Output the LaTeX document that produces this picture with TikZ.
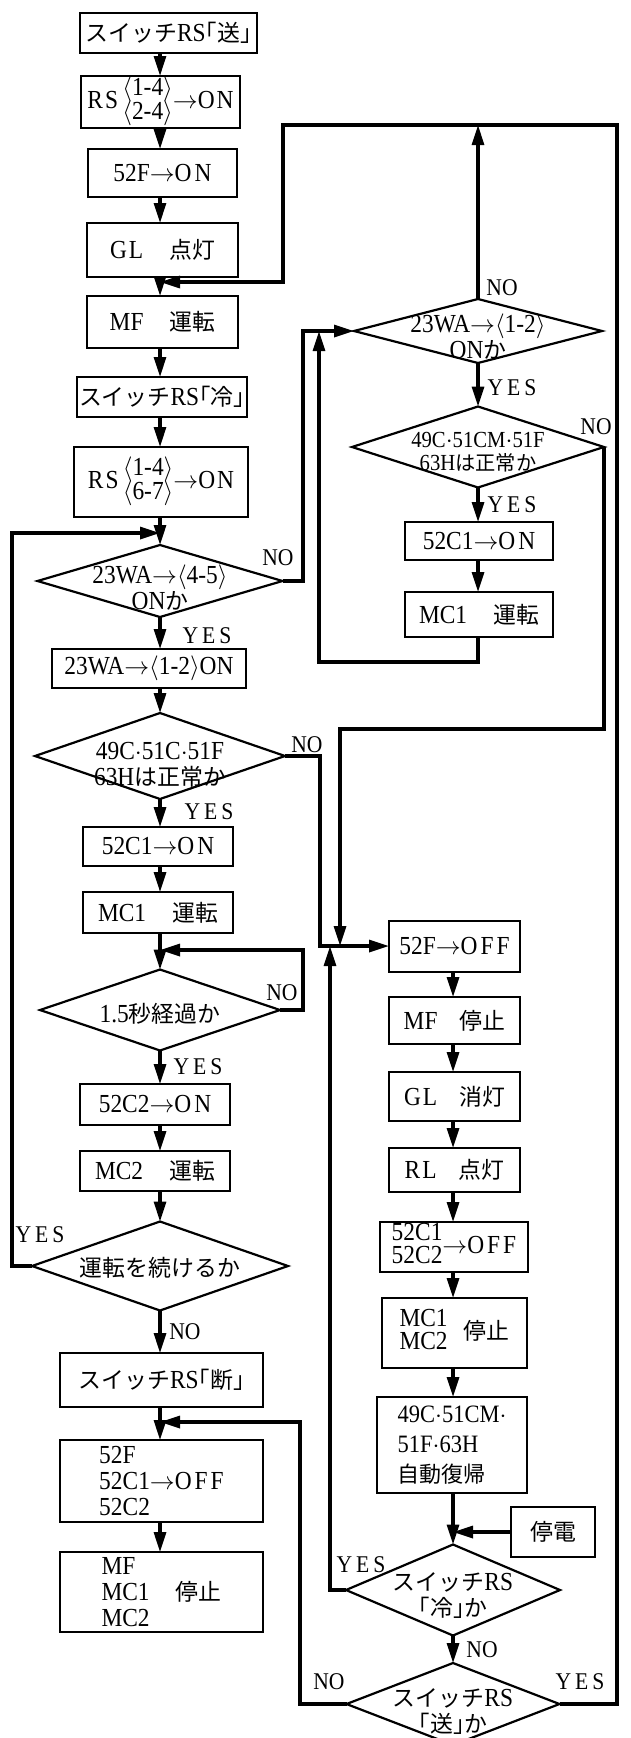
\documentclass[tikz,border=0pt]{standalone}
\usepackage{fontspec}
\setmainfont{Liberation Serif}[FakeStretch=0.9]
\newfontfamily\jp{Noto Sans CJK JP}[Scale=0.88]
\usetikzlibrary{arrows.meta,shapes.geometric}
\newcommand\mainfs{\fontsize{26}{26}\selectfont}
\newcommand\lblfs{\fontsize{24}{24}\selectfont}
\newcommand\myarr{$\rightarrow$}
\newcommand\myla{$\langle$}
\newcommand\myra{$\rangle$}
\newcommand\YESt{Y\kern4pt E\kern4pt S}
\newcommand\stk[2]{\begin{tabular}{@{}l@{}}#1\\[-3pt]#2\end{tabular}}
\begin{document}
\begin{tikzpicture}[x=1pt,y=-1pt,
  every node/.style={inner sep=0pt,outer sep=0pt},
  box/.style={draw,line width=2pt,font=\mainfs,align=center},
  dia/.style={draw,shape=diamond,line width=2.2pt},
  dtxt/.style={font=\mainfs,align=center},
  conn/.style={line width=3.2pt},
  arr/.style={conn,-{Triangle[length=20pt,width=12pt]}},
  lbl/.style={font=\lblfs}]
\fill[white] (0,0) rectangle (630,1738);
\useasboundingbox (0,0) rectangle (630,1738);

% column references
\coordinate (col) at (160,0);
\coordinate (rcol) at (478,0);
\coordinate (lcol) at (453,0);

% left column
\node[box,minimum width=177pt,minimum height=40pt] (sw1) at (168.5,33) {{\jp スイッチ}RS{\jp ｢送｣}};
\node[box,minimum width=159pt,minimum height=52pt] (rs1) at (160.5,102) {R\kern2pt S\,\stk{\myla1-4\myra}{\myla2-4\myra}\myarr O\kern2pt N};
\node[box,minimum width=149pt,minimum height=48pt] (f52on) at (162.5,173) {52F\myarr O\kern3pt N};
\node[box,minimum width=151pt,minimum height=54pt] (glon) at (162.5,250) {G\kern2pt L\hspace{26pt}{\jp 点灯}};
\node[box,minimum width=151pt,minimum height=52pt] (mfrun) at (162.5,322) {MF\hspace{26pt}{\jp 運転}};
\node[box,minimum width=170pt,minimum height=40pt] (sw2) at (162,397) {{\jp スイッチ}RS{\jp ｢冷｣}};
\node[box,minimum width=174pt,minimum height=70pt] (rs2) at (161,482) {R\kern2pt S\,\stk{\myla1-4\myra}{\myla6-7\myra}\myarr O\kern2pt N};
\node[dia,minimum width=245pt,minimum height=72pt] (d1) at (160,581) {};
\node[dtxt] (d1t) at (160,588) {23WA\myarr\myla4-5\myra\\ON{\jp か}};
\node[box,minimum width=194pt,minimum height=39pt] (wa12) at (149,668.5) {23WA\myarr\myla1-2\myra ON};
\node[dia,minimum width=250pt,minimum height=86pt] (d2) at (160,756) {};
\node[dtxt] (d2t) at (160,765) {49C${\cdot}$51C${\cdot}$51F\\63H{\jp は正常か}};
\node[box,minimum width=150pt,minimum height=39pt] (c1on) at (158,846.5) {52C1\myarr O\kern3pt N};
\node[box,minimum width=150pt,minimum height=41pt] (mc1run) at (158,912.5) {MC1\hspace{26pt}{\jp 運転}};
\node[dia,minimum width=240pt,minimum height=81pt] (d3) at (160,1010) {};
\node[dtxt] (d3t) at (160,1014) {1.5{\jp 秒経過か}};
\node[box,minimum width=150pt,minimum height=41pt] (c2on) at (155,1104.5) {52C2\myarr O\kern3pt N};
\node[box,minimum width=150pt,minimum height=40pt] (mc2run) at (155,1171) {MC2\hspace{26pt}{\jp 運転}};
\node[dia,minimum width=256pt,minimum height=89pt] (d4) at (160,1266) {};
\node[dtxt] (d4t) at (160,1268) {{\jp 運転を続けるか}};
\node[box,minimum width=203pt,minimum height=54pt] (swoff) at (161.5,1380) {{\jp スイッチ}RS{\jp ｢断｣}};
\node[box,minimum width=203pt,minimum height=82pt,align=left] (offbox) at (161.5,1481) {52F\\52C1\myarr O\kern3pt F\kern3pt F\\52C2};
\node[box,minimum width=203pt,minimum height=80pt,align=left] (stopbox) at (161.5,1592) {MF\\MC1\hspace{26pt}{\jp 停止}\\MC2};

% right upper column
\node[dia,minimum width=248pt,minimum height=64pt] (d5) at (478,331) {};
\node[dtxt] (d5t) at (478,337) {23WA\myarr\myla1-2\myra\\ON{\jp か}};
\node[dia,minimum width=252pt,minimum height=81pt] (d6) at (478,447) {};
\node[dtxt,font=\fontsize{23}{23}\selectfont] (d6t) at (478,452) {49C${\cdot}$51CM${\cdot}$51F\\63H{\jp は正常か}};
\node[box,minimum width=148pt,minimum height=38pt] (c1on2) at (479,541) {52C1\myarr O\kern3pt N};
\node[box,minimum width=148pt,minimum height=45pt] (mc1run2) at (479,614.5) {MC1\hspace{26pt}{\jp 運転}};

% right lower column
\node[box,minimum width=131pt,minimum height=51pt] (foff) at (454.5,946) {52F\myarr O\kern3pt F\kern3pt F};
\node[box,minimum width=131pt,minimum height=47pt] (mfstop) at (454.5,1020.5) {MF\hspace{22pt}{\jp 停止}};
\node[box,minimum width=131pt,minimum height=49pt] (gloff) at (454.5,1096.5) {G\kern2pt L\hspace{22pt}{\jp 消灯}};
\node[box,minimum width=131pt,minimum height=44pt] (rlon) at (454.5,1170) {R\kern2pt L\hspace{22pt}{\jp 点灯}};
\node[box,minimum width=148pt,minimum height=50pt] (c12off) at (454,1247) {\stk{52C1}{52C2}\myarr O\kern3pt F\kern3pt F};
\node[box,minimum width=145pt,minimum height=70pt] (mc12stop) at (454.5,1333) {\stk{MC1}{MC2}\hspace{16pt}{\jp 停止}};
\node[box,minimum width=150pt,minimum height=96pt,align=left,font=\fontsize{25}{30}\selectfont] (reset) at (452,1445) {49C${\cdot}$51CM${\cdot}$\\51F${\cdot}$63H\\{\jp 自動復帰}};
\node[box,minimum width=84pt,minimum height=50pt] (teiden) at (553,1532) {{\jp 停電}};
\node[dia,minimum width=214pt,minimum height=91pt] (d7) at (453,1590) {};
\node[dtxt] (d7t) at (453,1596) {{\jp スイッチ}RS\\{\jp ｢冷｣か}};
\node[dia,minimum width=213pt,minimum height=82pt] (d8) at (453,1704) {};
\node[dtxt] (d8t) at (453,1712) {{\jp スイッチ}RS\\{\jp ｢送｣か}};

% junction coordinates
\coordinate (jtop) at (160,282);
\coordinate (jleft) at (160,533);
\coordinate (jd3) at (160,950);
\coordinate (jsw) at (160,1422);
\coordinate (tr) at (617,125);
\coordinate (tl) at (283,125);
\coordinate (lx) at (12,533);
\coordinate (a1) at (303,331);
\coordinate (a2) at (319,331);
\coordinate (a3) at (340,729);
\coordinate (a4) at (320,946);
\coordinate (a5) at (330,946);
\coordinate (a6) at (303,950);
\coordinate (a7) at (300,1422);
\coordinate (jt) at (453,1532);

% left column arrows
\draw[arr] (sw1.south -| col) -- (rs1.north -| col);
\draw[arr] (rs1.south -| col) -- (f52on.north -| col);
\draw[arr] (f52on.south -| col) -- (glon.north -| col);
\draw[arr] (glon.south -| col) -- (mfrun.north -| col);
\draw[arr] (mfrun.south -| col) -- (sw2.north -| col);
\draw[arr] (sw2.south -| col) -- (rs2.north -| col);
\draw[arr] (rs2.south -| col) -- (d1.north);
\draw[arr] (d1.south) -- (wa12.north -| col);
\draw[arr] (wa12.south -| col) -- (d2.north);
\draw[arr] (d2.south) -- (c1on.north -| col);
\draw[arr] (c1on.south -| col) -- (mc1run.north -| col);
\draw[arr] (mc1run.south -| col) -- (d3.north);
\draw[arr] (d3.south) -- (c2on.north -| col);
\draw[arr] (c2on.south -| col) -- (mc2run.north -| col);
\draw[arr] (mc2run.south -| col) -- (d4.north);
\draw[arr] (d4.south) -- (swoff.north -| col);
\draw[arr] (swoff.south -| col) -- (offbox.north -| col);
\draw[arr] (offbox.south -| col) -- (stopbox.north -| col);

% right upper arrows
\draw[arr] (d5.south) -- (d6.north);
\draw[arr] (d6.south) -- (c1on2.north -| rcol);
\draw[arr] (c1on2.south -| rcol) -- (mc1run2.north -| rcol);

% right lower arrows
\draw[arr] (foff.south -| lcol) -- (mfstop.north -| lcol);
\draw[arr] (mfstop.south -| lcol) -- (gloff.north -| lcol);
\draw[arr] (gloff.south -| lcol) -- (rlon.north -| lcol);
\draw[arr] (rlon.south -| lcol) -- (c12off.north -| lcol);
\draw[arr] (c12off.south -| lcol) -- (mc12stop.north -| lcol);
\draw[arr] (mc12stop.south -| lcol) -- (reset.north -| lcol);
\draw[arr] (reset.south -| lcol) -- (d7.north);
\draw[arr] (d7.south) -- (d8.north);
\draw[arr] (teiden.west) -- (jt);

% loops
\draw[arr] (d8.east) -| (tr) -- (tl) |- (jtop);
\draw[arr] (d5.north) -- (d5.north |- tr);
\draw[arr] (d4.west) -| (lx) -- (jleft);
\draw[arr] (d1.east) -| (a1) -- (d5.west);
\draw[arr] (mc1run2.south -| rcol) -- ++(0,25) -| (a2);
\draw[arr] (d6.east) |- (a3) -- (a3 |- foff.west);
\draw[arr] (d2.east) -| (a4) -- (foff.west);
\draw[arr] (d7.west) -| (a5);
\draw[arr] (d3.east) -| (a6) -- (jd3);
\draw[arr] (d8.west) -| (a7) -- (jsw);

% labels
\node[lbl] (l1) at (207,636) {\YESt};
\node[lbl] (l2) at (278,558) {NO};
\node[lbl] (l3) at (307,745) {NO};
\node[lbl] (l4) at (209,812) {\YESt};
\node[lbl] (l5) at (282,993) {NO};
\node[lbl] (l6) at (198,1067) {\YESt};
\node[lbl] (l7) at (40,1235) {\YESt};
\node[lbl] (l8) at (185,1332) {NO};
\node[lbl] (l9) at (502,288) {NO};
\node[lbl] (l10) at (512,388) {\YESt};
\node[lbl] (l11) at (596,427) {NO};
\node[lbl] (l12) at (512,505) {\YESt};
\node[lbl] (l13) at (361,1565) {\YESt};
\node[lbl] (l14) at (482,1650) {NO};
\node[lbl] (l15) at (329,1682) {NO};
\node[lbl] (l16) at (580,1682) {\YESt};
\end{tikzpicture}
\end{document}
